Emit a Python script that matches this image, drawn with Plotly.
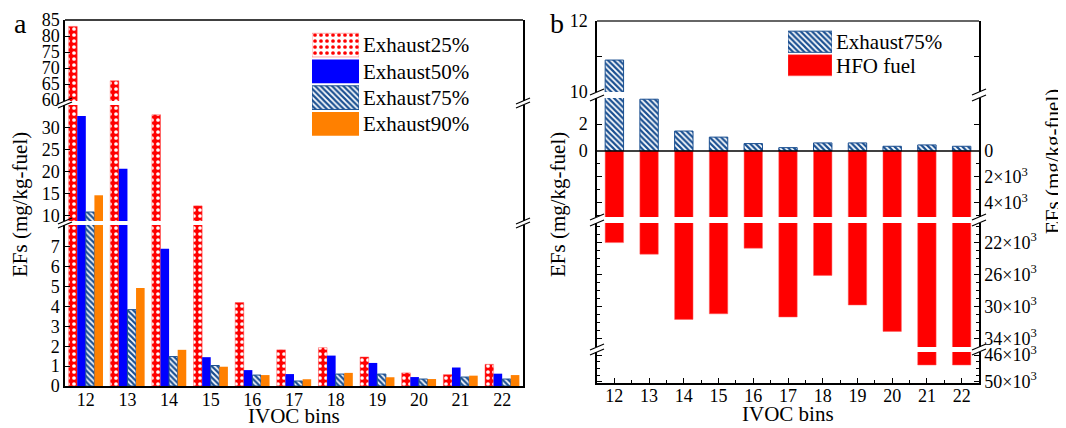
import plotly.graph_objects as go

# target picture is 1066x428; the page body adds an 8px margin, so the figure itself
# is made 8px smaller and all positions are given in target-picture pixels minus 8
OFF = 8
W, H = 1066 - OFF, 428 - OFF

# ---------------- data ----------------
bins = [12, 13, 14, 15, 16, 17, 18, 19, 20, 21, 22]
exhaust25 = [83.0, 66.0, 33.0, 12.3, 4.2, 1.82, 1.93, 1.46, 0.66, 0.57, 1.09]
exhaust50 = [32.7, 20.7, 6.9, 1.45, 0.8, 0.6, 1.53, 1.16, 0.45, 0.93, 0.62]
exhaust75 = [10.9, 3.84, 1.48, 1.03, 0.55, 0.25, 0.6, 0.6, 0.35, 0.45, 0.35]
exhaust90 = [14.7, 4.93, 1.82, 0.97, 0.55, 0.34, 0.66, 0.44, 0.35, 0.52, 0.55]
hfo_fuel = [22000, 23450, 31600, 30900, 22700, 31300, 26100, 29800, 33100, 47500, 47500]

series_a = ["Exhaust25%", "Exhaust50%", "Exhaust75%", "Exhaust90%"]
values_a = [exhaust25, exhaust50, exhaust75, exhaust90]
series_b = ["Exhaust75%", "HFO fuel"]

# tick labels
a_top_ticks = [60, 65, 70, 75, 80, 85]
a_mid_ticks = [10, 15, 20, 25, 30]
a_low_ticks = [0, 1, 2, 3, 4, 5, 6, 7]
b_s1_ticks = [10, 12]
b_s1_minor = [11]
b_s2_ticks = [0, 2]
b_s3_ticks = [0, 2000, 4000]
b_s3_text = ["0", "2×10<sup>3</sup>", "4×10<sup>3</sup>"]
b_s3_minor = [1000, 3000, 5000]
b_s4_ticks = [22000, 26000, 30000, 34000]
b_s4_text = ["22×10<sup>3</sup>", "26×10<sup>3</sup>", "30×10<sup>3</sup>", "34×10<sup>3</sup>"]
b_s4_minor = [20000, 21000, 23000, 24000, 25000, 27000, 28000, 29000, 31000, 32000, 33000, 35000]
b_s5_ticks = [46000, 50000]
b_s5_text = ["46×10<sup>3</sup>", "50×10<sup>3</sup>"]
b_s5_minor = [47000, 48000, 49000]

# ---------------- styles ----------------
FONT = "Liberation Serif"
RED = "#ff0000"
BLUE = "#0000ff"
HATCH = "#1a4f91"
ORANGE = "#ff8000"

style = {
    "Exhaust25%": dict(color=RED, shape=".", fg="white", bg=RED, size=6, sol=0.3, lc="#ff5050", lw=0.5),
    "Exhaust50%": dict(color=BLUE, shape="", fg=BLUE, bg=BLUE, size=6, sol=0.3, lc=BLUE, lw=0),
    "Exhaust75%": dict(color=HATCH, shape="\\", fg=HATCH, bg="white", size=4, sol=0.55, lc=HATCH, lw=1),
    "Exhaust90%": dict(color=ORANGE, shape="", fg=ORANGE, bg=ORANGE, size=6, sol=0.3, lc=ORANGE, lw=0),
    "HFO fuel": dict(color=RED, shape="", fg=RED, bg=RED, size=6, sol=0.3, lc="#ff6060", lw=0.5),
}


def marker_for(name):
    s = style[name]
    m = dict(color=s["color"], line=dict(color=s["lc"], width=s["lw"]))
    if s["shape"]:
        m["pattern"] = dict(shape=s["shape"], fgcolor=s["fg"], bgcolor=s["bg"],
                            size=s["size"], solidity=s["sol"], fillmode="replace")
    return m


def marker_list(names):
    ss = [style[n] for n in names]
    return dict(
        color=[s["color"] for s in ss],
        line=dict(color=[s["lc"] for s in ss], width=[s["lw"] for s in ss]),
        pattern=dict(shape=[s["shape"] for s in ss], fgcolor=[s["fg"] for s in ss],
                     bgcolor=[s["bg"] for s in ss], size=[s["size"] for s in ss],
                     solidity=[s["sol"] for s in ss], fillmode="replace"),
    )


def px(p):
    return (p - OFF) / W


def py(p):
    return 1 - (p - OFF) / H


def xdom(a, b):
    return [px(a), px(b)]


def ydom(top, bottom):
    return [py(bottom), py(top)]


fig = go.Figure()

# ---------------- panel a bars ----------------
for yax in ["y", "y2", "y3"]:
    for name, vals in zip(series_a, values_a):
        fig.add_trace(go.Bar(x=bins, y=vals, name=name, xaxis="x", yaxis=yax,
                             marker=marker_for(name), showlegend=False))

# ---------------- panel b bars ----------------
for yax in ["y4", "y5"]:
    fig.add_trace(go.Bar(x=bins, y=exhaust75, name="Exhaust75%", xaxis="x2", yaxis=yax,
                         width=0.53, marker=marker_for("Exhaust75%"), showlegend=False))
for yax in ["y6", "y7", "y8"]:
    fig.add_trace(go.Bar(x=bins, y=hfo_fuel, name="HFO fuel", xaxis="x2", yaxis=yax,
                         width=0.53, marker=marker_for("HFO fuel"), showlegend=False))

# ---------------- legend swatches (as bars on small axes) ----------------
fig.add_trace(go.Bar(x=[1] * len(series_a), y=series_a, orientation="h", xaxis="x3", yaxis="y9",
                     width=0.9, marker=marker_list(series_a), showlegend=False, hoverinfo="skip"))
fig.add_trace(go.Bar(x=[1] * len(series_b), y=series_b, orientation="h", xaxis="x4", yaxis="y10",
                     width=0.9, marker=marker_list(series_b), showlegend=False, hoverinfo="skip"))

tickfont = dict(family=FONT, size=18, color="black")
common = dict(showgrid=False, zeroline=False, showline=True, linecolor="black", linewidth=1.5,
              ticks="inside", ticklen=5, tickcolor="black", tickwidth=1.2, tickfont=tickfont,
              automargin=False)


def minor(vals, ln=3):
    return dict(tickvals=vals, ticks="inside", ticklen=ln, tickcolor="black", tickwidth=1)


layout = dict(
    width=W, height=H,
    margin=dict(l=0, r=0, t=0, b=0, pad=0, autoexpand=False),
    paper_bgcolor="white", plot_bgcolor="rgba(0,0,0,0)",
    barmode="group", bargap=0.175, bargroupgap=0,
    showlegend=False,
    font=dict(family=FONT, color="black"),
)

# panel a axes
layout["xaxis"] = dict(common, domain=xdom(65, 523), range=[11.5, 22.5], anchor="y3",
                       tickvals=bins, ticks="", ticklabelstandoff=-3)
ya_font = dict(family=FONT, size=18, color="black")
layout["yaxis"] = dict(common, domain=ydom(20, 101), range=[59.7, 85], anchor="x",
                       tickvals=a_top_ticks, mirror=True, tickfont=ya_font)
layout["yaxis2"] = dict(common, domain=ydom(105, 221), range=[8.86, 35.2], anchor="x",
                        tickvals=a_mid_ticks, mirror=True, tickfont=ya_font)
layout["yaxis3"] = dict(common, domain=ydom(225, 386), range=[0, 8.1], anchor="x",
                        tickvals=a_low_ticks, mirror=True, tickfont=ya_font)

# panel b axes
layout["xaxis2"] = dict(common, domain=xdom(597, 979), range=[11.5, 22.5], anchor="y8",
                        tickvals=bins, ticks="inside", ticklen=5, ticklabelstandoff=-4,
                        minor=minor([b + 0.5 for b in bins[:-1]]))
layout["yaxis4"] = dict(common, domain=ydom(21, 92), range=[10, 12], anchor="x2",
                        tickvals=b_s1_ticks, minor=minor(b_s1_minor, 5), mirror="ticks", ticklabelstandoff=4)
layout["yaxis5"] = dict(common, domain=ydom(98, 151), range=[0, 3.93], anchor="x2",
                        tickvals=b_s2_ticks, mirror="ticks", ticklabelstandoff=4)
layout["yaxis6"] = dict(common, domain=ydom(151, 217), range=[5080, 0], anchor="x2", side="right",
                        tickvals=b_s3_ticks, ticktext=b_s3_text, minor=minor(b_s3_minor), mirror="ticks")
layout["yaxis7"] = dict(common, domain=ydom(223, 347), range=[35050, 19550], anchor="x2", side="right",
                        tickvals=b_s4_ticks, ticktext=b_s4_text, minor=minor(b_s4_minor), mirror="ticks")
layout["yaxis8"] = dict(common, domain=ydom(352, 382.7), range=[50150, 45550], anchor="x2", side="right",
                        tickvals=b_s5_ticks, ticktext=b_s5_text, minor=minor(b_s5_minor), mirror="ticks")

# legend axes
leg_font = dict(family=FONT, size=21, color="black")
layout["xaxis3"] = dict(domain=xdom(312, 359), range=[0, 1], visible=False, anchor="y9")
layout["yaxis9"] = dict(domain=ydom(32, 137), type="category", categoryorder="array",
                        categoryarray=series_a, tickmode="array", tickvals=series_a,
                        autorange="reversed", side="right", anchor="x3",
                        showline=False, showgrid=False, zeroline=False, ticks="",
                        tickfont=leg_font, ticklabelstandoff=3, automargin=False)
layout["xaxis4"] = dict(domain=xdom(788, 832), range=[0, 1], visible=False, anchor="y10")
layout["yaxis10"] = dict(domain=ydom(30, 77), type="category", categoryorder="array",
                         categoryarray=series_b, tickmode="array", tickvals=series_b,
                         autorange="reversed", side="right", anchor="x4",
                         showline=False, showgrid=False, zeroline=False, ticks="",
                         tickfont=leg_font, ticklabelstandoff=3, automargin=False)

# ---------------- decorations ----------------
shapes = []


def pline(x0, y0, x1, y1, color="black", width=1.5):
    shapes.append(dict(type="line", xref="paper", yref="paper",
                       x0=px(x0), y0=py(y0), x1=px(x1), y1=py(y1),
                       line=dict(color=color, width=width)))


# top borders
pline(65, 20, 523, 20)
pline(597, 21, 979, 21, color="#333333", width=1.5)
# zero line in panel b
pline(597, 151, 979, 151)

# axis-break marks
breaks = [
    ([65, 523], [(101, 105), (221, 225)]),
    ([597, 979], [(92, 98), (217, 223), (347, 352)]),
]
for xs, gaps in breaks:
    for x in xs:
        for g1, g2 in gaps:
            for yy in (g1, g2):
                pline(x - 7, yy + 3, x + 7, yy - 3, width=1.2)

layout["shapes"] = shapes


def ann(text, x, y, size, angle=0):
    return dict(text=text, x=px(x), y=py(y), xref="paper", yref="paper", showarrow=False,
                xanchor="center", yanchor="middle", textangle=angle,
                font=dict(family=FONT, size=size, color="black"))


layout["annotations"] = [
    ann("a", 20, 24, 28),
    ann("b", 557, 24, 28),
    ann("EFs (mg/kg-fuel)", 20, 205, 21, -90),
    ann("EFs (mg/kg-fuel)", 558, 205, 21, -90),
    ann("EFs (mg/kg-fuel)", 1053, 162, 21, -90),
    ann("IVOC bins", 294, 416, 21),
    ann("IVOC bins", 788, 414, 21),
]

fig.update_layout(**layout)
fig.write_html("out.html")
